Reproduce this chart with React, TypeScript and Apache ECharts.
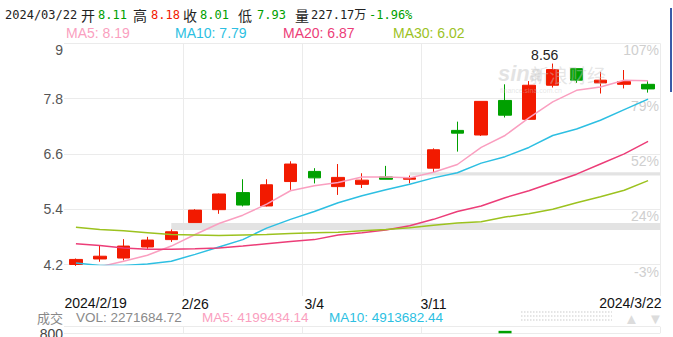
import React, { useEffect, useRef } from 'react';
import * as echarts from 'echarts';

const dates = ['2024/2/19','2024/2/20','2024/2/21','2024/2/22','2024/2/23','2024/2/26','2024/2/27','2024/2/28','2024/2/29','2024/3/1','2024/3/4','2024/3/5','2024/3/6','2024/3/7','2024/3/8','2024/3/11','2024/3/12','2024/3/13','2024/3/14','2024/3/15','2024/3/18','2024/3/19','2024/3/20','2024/3/21','2024/3/22'];
const openP  = [4.20,4.32,4.34,4.58,4.74,5.11,5.39,5.76,5.47,6.00,6.22,5.89,5.94,6.10,6.05,6.29,7.11,7.01,7.76,7.35,8.09,8.45,8.14,8.11,8.11];
const closeP = [4.31,4.38,4.60,4.73,4.91,5.38,5.73,5.49,5.93,6.38,6.08,6.09,6.03,6.05,6.08,6.69,7.05,7.74,7.44,8.09,8.43,8.20,8.20,8.17,8.01];
const lowP   = [4.17,4.26,4.29,4.54,4.69,5.11,5.30,5.46,5.46,5.82,5.96,5.71,5.86,6.05,5.96,6.20,6.65,6.99,7.39,7.35,8.04,8.14,7.91,8.02,7.93];
const highP  = [4.33,4.62,4.75,4.80,4.96,5.40,5.74,6.05,6.05,6.44,6.29,6.38,6.18,6.34,6.13,6.72,7.30,7.74,8.11,8.18,8.56,8.45,8.38,8.42,8.18];
const ma5  = [4.03,4.15,4.27,4.40,4.60,4.85,5.09,5.27,5.51,5.80,5.91,5.98,6.10,6.10,6.08,6.20,6.37,6.74,7.00,7.38,7.73,7.98,8.05,8.20,8.19];
const ma10 = [4.23,4.18,4.18,4.21,4.27,4.42,4.58,4.74,4.99,5.18,5.35,5.54,5.69,5.82,5.94,6.08,6.19,6.40,6.54,6.74,7.00,7.14,7.33,7.56,7.79];
const ma20 = [4.65,4.61,4.56,4.53,4.53,4.54,4.56,4.60,4.65,4.70,4.74,4.84,4.89,4.95,5.04,5.18,5.35,5.47,5.65,5.80,5.98,6.16,6.38,6.60,6.87];
const ma30 = [5.01,4.96,4.93,4.89,4.85,4.84,4.83,4.84,4.85,4.87,4.89,4.90,4.93,4.96,5.00,5.05,5.10,5.13,5.23,5.30,5.40,5.54,5.67,5.81,6.02];
const volumes = [1800000,2100000,2600000,2300000,3000000,4200000,3800000,4500000,4100000,4800000,3900000,3600000,3000000,2800000,2700000,4200000,5600000,6200000,7500000,4640000,5200000,4300000,4800000,4425000,2271684.72];
const volMA5 = 4199434.14;
const volMA10 = 4913682.44;
const prevClose = 8.17;
const priceTicks = ['4.2','5.4','6.6','7.8','9'];
const pctTicks = ['-3%','24%','52%','79%','107%'];
const volTicks = ['', '800'];
// grey bands: [start category index, upper price, lower price]
const bands: [number, number, number][] = [[4, 5.10, 4.95], [14, 6.20, 6.13]];

const RED = '#f21a00';
const GREEN = '#00a000';
const C5 = '#fa9fc0';
const C10 = '#2dbfe2';
const C20 = '#ec3d78';
const C30 = '#9cc21f';
const GRID = '#ebebeb';
const SANS = '"Liberation Sans", Arial, sans-serif';
const MONO = '"DejaVu Sans Mono", "Noto Sans CJK SC", monospace';
const CJK = '"Noto Sans CJK SC", sans-serif';

export default function App() {
  const ref = useRef<HTMLDivElement>(null);
  useEffect(() => {
    const chart = echarts.init(ref.current!, null, { renderer: 'svg' });
    const n = dates.length;
    const last = n - 1;
    const o = openP[last], h = highP[last], c = closeP[last], l = lowP[last];
    const pct = ((c - prevClose) / prevClose) * 100;
    const colOf = (v: number, ref0: number) => (v > ref0 ? RED : v < ref0 ? GREEN : '#222');
    let hiIdx = 0, loIdx = 0;
    highP.forEach((v, i) => { if (v > highP[hiIdx]) hiIdx = i; });
    lowP.forEach((v, i) => { if (v < lowP[loIdx]) loIdx = i; });
    const weekIdx = (i: number) => i === 5 || i === 10 || i === 15;
    const shortDate = (s: string) => s.split('/').slice(1).join('/');

    const txt = (x: number, y: number, text: string, fill: string, fontSize: number, fontFamily: string, align = 'left', extra: any = {}) => ({
      type: 'text', x, y, silent: true, z: 100,
      style: { text, fill, fontSize, fontFamily, align, verticalAlign: 'middle', ...extra },
    });

    const header = [
      txt(5, 15, '2024/03/22', '#222', 12, MONO),
      txt(81, 15, '开', '#222', 14, CJK),
      txt(98, 15, o.toFixed(2), colOf(o, prevClose), 12, MONO),
      txt(133, 15, '高', '#222', 14, CJK),
      txt(151, 15, h.toFixed(2), colOf(h, prevClose), 12, MONO),
      txt(183, 15, '收', '#222', 14, CJK),
      txt(200, 15, c.toFixed(2), colOf(c, prevClose), 12, MONO),
      txt(238, 15, '低', '#222', 14, CJK),
      txt(257, 15, l.toFixed(2), colOf(l, prevClose), 12, MONO),
      txt(295, 15, '量', '#222', 14, CJK),
      txt(311, 15, (volumes[last] / 10000).toFixed(2) + '万', '#222', 12, MONO),
      txt(369, 15, pct.toFixed(2) + '%', colOf(c, prevClose), 12, MONO),
      txt(66, 33, 'MA5: ' + ma5[last].toFixed(2), C5, 14, SANS),
      txt(175, 33, 'MA10: ' + ma10[last].toFixed(2), C10, 14, SANS),
      txt(283, 33, 'MA20: ' + ma20[last].toFixed(2), C20, 14, SANS),
      txt(393, 33, 'MA30: ' + ma30[last].toFixed(2), C30, 14, SANS),
      txt(64.5, 303, dates[0], '#111', 14, SANS),
      txt(661.5, 303, dates[last], '#111', 14, SANS, 'right'),
      txt(37, 317, '成交', '#888', 13, CJK),
      txt(76, 317, 'VOL: ' + volumes[last].toFixed(2), '#8a8a8a', 13.5, SANS),
      txt(202, 317, 'MA5: ' + volMA5.toFixed(2), C5, 13.5, SANS),
      txt(329, 317, 'MA10: ' + volMA10.toFixed(2), C10, 13.5, SANS),
      txt(624, 318, '▲', '#dcdcdc', 15, SANS),
      txt(648, 318, '▼', '#dcdcdc', 15, SANS),
      txt(498, 73, 'sina', 'rgba(200,200,200,0.5)', 22, SANS, 'left', { fontStyle: 'italic', fontWeight: 'bold' }),
      txt(530, 74, '新浪财经', 'rgba(200,200,200,0.45)', 19, CJK),
      txt(500, 90, 'finance.sina.com.cn', 'rgba(200,200,200,0.45)', 7, SANS),
      { type: 'rect', silent: true, z: 100, shape: { x: 670, y: 8, width: 2, height: 84 }, style: { fill: '#3a5ba8' } },
      ...[312, 316, 320].map((y) => ({
        type: 'line', silent: true, z: 100,
        shape: { x1: 521, y1: y, x2: 612, y2: y },
        style: { stroke: '#dddddd', lineWidth: 1.5, lineDash: [1.5, 1.5] },
      })),
    ];

    const maSeries = (name: string, data: number[], color: string) => ({
      name, type: 'line', xAxisIndex: 0, yAxisIndex: 0, data, showSymbol: false, symbol: 'none',
      lineStyle: { color, width: 1.5 }, itemStyle: { color }, z: 3, silent: true,
    });

    const option: any = {
      animation: false,
      grid: [
        { left: 64, right: 13, top: 43.3, height: 221.2 },
        { left: 64, right: 13, top: 43.3, height: 252.7 },
        { left: 64, right: 13, top: 326.7, bottom: 0 },
      ],
      xAxis: [
        { type: 'category', gridIndex: 0, data: dates, boundaryGap: true, axisLine: { show: false }, axisTick: { show: false }, axisLabel: { show: false }, splitLine: { show: false } },
        {
          type: 'category', gridIndex: 1, data: dates, boundaryGap: true, axisLine: { show: false }, axisTick: { show: false },
          axisLabel: { interval: (i: number) => weekIdx(i), formatter: (v: string) => shortDate(v), margin: 1, fontSize: 14, color: '#111', fontFamily: SANS },
          splitLine: { show: true, interval: (i: number) => weekIdx(i), lineStyle: { color: GRID, width: 1 } },
        },
        {
          type: 'category', gridIndex: 2, data: dates, boundaryGap: true, axisLine: { show: false }, axisTick: { show: false }, axisLabel: { show: false },
          splitLine: { show: true, interval: (i: number) => weekIdx(i), lineStyle: { color: GRID, width: 1 } },
        },
      ],
      yAxis: [
        {
          type: 'value', gridIndex: 0, position: 'left', min: 4.2, max: 9, interval: 1.2, scale: true,
          axisLine: { show: false }, axisTick: { show: false },
          axisLabel: { margin: 1, fontSize: 14, color: '#555', fontFamily: SANS, verticalAlignMaxLabel: 'top', formatter: (_v: number, i: number) => priceTicks[i] },
          splitLine: { show: true, lineStyle: { color: GRID, width: 1 } },
        },
        {
          type: 'value', gridIndex: 0, position: 'right', min: 4.2, max: 9, interval: 1.2, scale: true,
          axisLine: { show: false }, axisTick: { show: false }, splitLine: { show: false },
          axisLabel: { inside: true, margin: 1, fontSize: 14, color: '#cfcfcf', fontFamily: SANS, verticalAlign: 'top', formatter: (_v: number, i: number) => pctTicks[i] },
        },
        { type: 'value', gridIndex: 1, show: false, min: 0, max: 1 },
        {
          type: 'value', gridIndex: 2, min: 7200000, max: 8000000, interval: 800000, scale: true,
          axisLine: { show: false }, axisTick: { show: false },
          axisLabel: { margin: 1, fontSize: 14, color: '#444', fontFamily: SANS, verticalAlign: 'top', showMinLabel: false, formatter: (_v: number, i: number) => volTicks[i] },
          splitLine: { show: true, lineStyle: { color: GRID, width: 1 } },
        },
      ],
      series: [
        {
          type: 'candlestick', xAxisIndex: 0, yAxisIndex: 0, silent: true, barWidth: 13,
          data: dates.map((_, i) => [openP[i], closeP[i], lowP[i], highP[i]]),
          itemStyle: { color: RED, color0: GREEN, borderColor: RED, borderColor0: GREEN, borderWidth: 1 },
          markArea: {
            silent: true,
            itemStyle: { color: '#e3e3e3', opacity: 1 },
            data: bands.map(([idx, top, bottom]) => [{ xAxis: dates[idx], yAxis: top }, { yAxis: bottom }]),
          },
          markPoint: {
            silent: true, symbol: 'circle', symbolSize: 1, itemStyle: { color: 'rgba(0,0,0,0)' },
            label: { show: true, position: 'inside', color: '#222', fontSize: 14, fontFamily: SANS, formatter: (p: any) => p.value.toFixed(2) },
            data: [
              { coord: [dates[hiIdx], highP[hiIdx]], value: highP[hiIdx], label: { offset: [-8, -9] } },
              { coord: [dates[loIdx], lowP[loIdx]], value: lowP[loIdx], label: { offset: [25, 10] } },
            ],
          },
        },
        maSeries('MA5', ma5, C5),
        maSeries('MA10', ma10, C10),
        maSeries('MA20', ma20, C20),
        maSeries('MA30', ma30, C30),
        {
          type: 'bar', xAxisIndex: 2, yAxisIndex: 3, silent: true, barWidth: 13, clip: true,
          data: volumes.map((v, i) => ({ value: v, itemStyle: { color: closeP[i] >= openP[i] ? RED : GREEN } })),
        },
      ],
      graphic: header,
    };
    chart.setOption(option);
    return () => chart.dispose();
  }, []);
  return <div ref={ref} style={{ position: 'fixed', left: 0, top: 0, width: 673, height: 337, background: '#fff' }} />;
}
